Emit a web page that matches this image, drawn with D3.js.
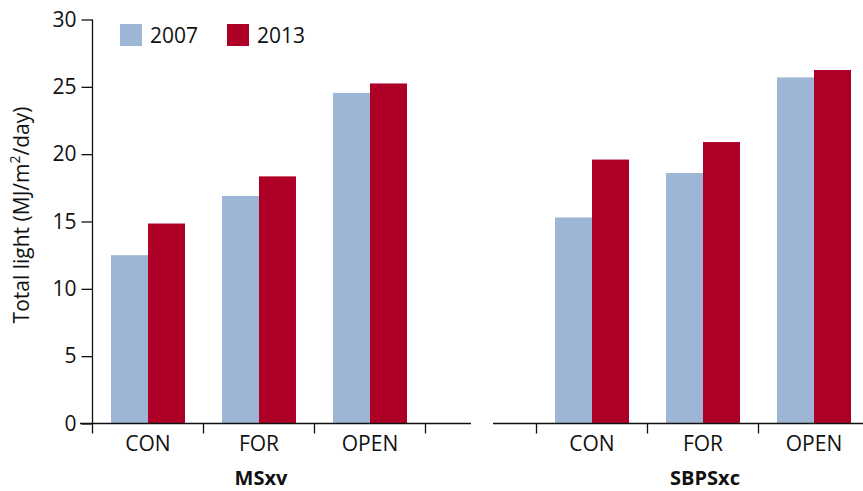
<!DOCTYPE html>
<html>
<head>
<meta charset="utf-8">
<script src="https://cdn.jsdelivr.net/npm/d3@7/dist/d3.min.js"></script>
<style>
  body { margin: 0; background: #fff; }
  svg text { font-family: "Open Sans", "Noto Sans", sans-serif; fill: #111; }
</style>
</head>
<body>
<svg id="chart" width="863" height="491"></svg>
<script>
// Total light by stand type, two sites, two survey years
const sites = ["MSxv", "SBPSxc"];
const categories = ["CON", "FOR", "OPEN"];
const years = ["2007", "2013"];
const values2007 = { MSxv: [12.5, 16.9, 24.55], SBPSxc: [15.3, 18.6, 25.7] };
const values2013 = { MSxv: [14.85, 18.35, 25.25], SBPSxc: [19.6, 20.9, 26.25] };
const yTicks = [0, 5, 10, 15, 20, 25, 30];

const colors = { "2007": "#9db6d6", "2013": "#ae0026" };

const svg = d3.select("#chart");
const y = d3.scaleLinear().domain([0, 30]).range([423.5, 19.5]);

// y axis
const yAxis = svg.append("g")
  .attr("transform", "translate(92.5,0)")
  .call(d3.axisLeft(y).tickValues(yTicks).tickSize(11).tickPadding(5));
yAxis.select(".domain").attr("d", `M0,${y(30)}V${y(0)}`).attr("stroke", "#111").attr("stroke-width", 1.3);
yAxis.selectAll(".tick line").attr("stroke", "#111").attr("stroke-width", 1.3);
yAxis.selectAll(".tick text").attr("font-size", 21).attr("fill", "#111");

svg.append("text")
  .attr("transform", "translate(29,215) rotate(-90)")
  .attr("text-anchor", "middle")
  .attr("font-size", 21)
  .html('Total light (MJ/m<tspan baseline-shift="super" font-size="14">2</tspan>/day)');

// one panel per site; each panel spans its three bands plus a boundary tick at each edge
const panels = [
  { site: sites[0], range: [92.5, 425.5], line: [80, 471], ticks: [0, 1, 2, 3] },
  { site: sites[1], range: [536.5, 869.5], line: [493, 870], ticks: [0, 1, 2, 3] }
];

panels.forEach(p => {
  const x0 = d3.scaleBand().domain(categories).range(p.range).paddingInner(0).paddingOuter(0);
  const x1 = d3.scaleBand().domain(years).range([0, x0.bandwidth()]).paddingInner(0).paddingOuter(0.5);
  const edge = d3.scaleLinear().domain([0, 3]).range(p.range);

  const g = svg.append("g");
  const rows = categories.map((c, i) => ({ cat: c, v: { "2007": values2007[p.site][i], "2013": values2013[p.site][i] } }));
  g.selectAll("g.grp").data(rows).join("g")
    .attr("transform", d => `translate(${x0(d.cat)},0)`)
    .selectAll("rect").data(d => years.map(yr => ({ yr, v: d.v[yr] }))).join("rect")
    .attr("x", d => x1(d.yr))
    .attr("width", x1.bandwidth())
    .attr("y", d => y(d.v))
    .attr("height", d => y(0) - y(d.v))
    .attr("fill", d => colors[d.yr]);

  // baseline and band boundary ticks
  svg.append("line")
    .attr("x1", p.line[0]).attr("x2", p.line[1])
    .attr("y1", y(0)).attr("y2", y(0))
    .attr("stroke", "#111").attr("stroke-width", 1.3);
  svg.selectAll(null).data(p.ticks).join("line")
    .attr("x1", d => edge(d)).attr("x2", d => edge(d))
    .attr("y1", y(0)).attr("y2", y(0) + 10)
    .attr("stroke", "#111").attr("stroke-width", 1.3);

  const xa = svg.append("g")
    .attr("transform", `translate(0,${y(0)})`)
    .call(d3.axisBottom(x0).tickSize(0));
  xa.select(".domain").remove();
  xa.selectAll(".tick text").attr("font-size", 21).attr("fill", "#111").attr("y", 27).attr("dy", 0);

  svg.append("text")
    .attr("x", (p.range[0] + p.range[1]) / 2 + 2)
    .attr("y", 485)
    .attr("text-anchor", "middle")
    .attr("font-size", 20)
    .attr("font-weight", "bold")
    .text(p.site);
});

// legend
const lg = svg.append("g").attr("transform", "translate(120,24)");
years.forEach((yr, i) => {
  const item = lg.append("g").attr("transform", `translate(${i * 107},0)`);
  item.append("rect").attr("width", 22).attr("height", 22).attr("fill", colors[yr]);
  item.append("text").attr("x", 30).attr("y", 19).attr("font-size", 21).text(yr);
});
</script>
</body>
</html>
